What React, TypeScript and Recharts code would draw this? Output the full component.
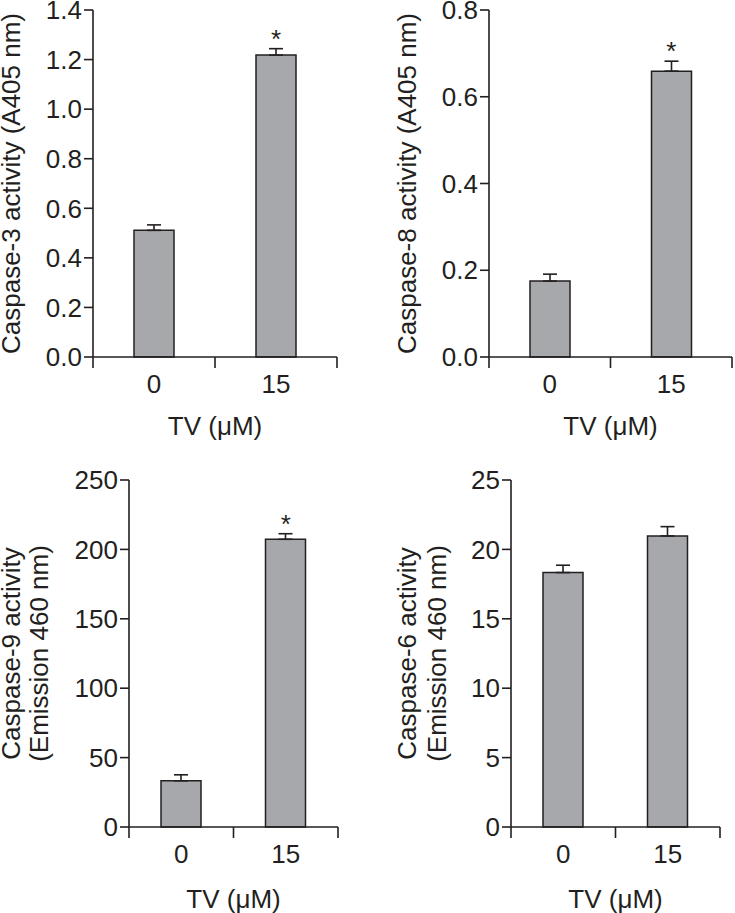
import { Bar, ComposedChart, ErrorBar, Scatter, XAxis, YAxis } from "recharts";

const INK = "#231f20";
const BAR_FILL = "#a7a8ab";
const FONT = "'Liberation Sans', Arial, Helvetica, sans-serif";
const FONT_SIZE = 26;
const X_TICK = 11;

// doses of TV (µM)
const categories = ["0", "15"];

const casp3Mean = [0.511, 1.218];
const casp3Sem = [0.022, 0.026];
const casp3Sig = [false, true];
const casp3Ticks = [0, 0.2, 0.4, 0.6, 0.8, 1.0, 1.2, 1.4];

const casp8Mean = [0.175, 0.659];
const casp8Sem = [0.016, 0.023];
const casp8Sig = [false, true];
const casp8Ticks = [0, 0.2, 0.4, 0.6, 0.8];

const casp9Mean = [33.3, 207.3];
const casp9Sem = [4.3, 4.0];
const casp9Sig = [false, true];
const casp9Ticks = [0, 50, 100, 150, 200, 250];

const casp6Mean = [18.33, 20.97];
const casp6Sem = [0.53, 0.67];
const casp6Sig = [false, false];
const casp6Ticks = [0, 5, 10, 15, 20, 25];

type Panel = {
  key: string;
  left: number;
  top: number;
  width: number;
  height: number;
  margin: { top: number; right: number; left: number; bottom: number };
  yAxisWidth: number;
  xAxisHeight: number;
  yTitle: string[];
  yTitleX: number[];
  xTitleDy: number;
  mean: number[];
  sem: number[];
  sig: boolean[];
  ticks: number[];
  decimals: number;
};

const panels: Panel[] = [
  {
    key: "c3",
    left: 0,
    top: 0,
    width: 340,
    height: 450,
    margin: { top: 10, right: 3, left: 0, bottom: 0 },
    yAxisWidth: 93,
    xAxisHeight: 93,
    yTitle: ["Caspase-3 activity (A405 nm)"],
    yTitleX: [20],
    xTitleDy: 78,
    mean: casp3Mean,
    sem: casp3Sem,
    sig: casp3Sig,
    ticks: casp3Ticks,
    decimals: 1,
  },
  {
    key: "c8",
    left: 380,
    top: 0,
    width: 355,
    height: 450,
    margin: { top: 10, right: 3, left: 0, bottom: 0 },
    yAxisWidth: 109,
    xAxisHeight: 93,
    yTitle: ["Caspase-8 activity (A405 nm)"],
    yTitleX: [36],
    xTitleDy: 78,
    mean: casp8Mean,
    sem: casp8Sem,
    sig: casp8Sig,
    ticks: casp8Ticks,
    decimals: 1,
  },
  {
    key: "c9",
    left: 0,
    top: 460,
    width: 340,
    height: 453,
    margin: { top: 20, right: 2, left: 0, bottom: 0 },
    yAxisWidth: 129,
    xAxisHeight: 86,
    yTitle: ["Caspase-9 activity", "(Emission 460 nm)"],
    yTitleX: [20, 48],
    xTitleDy: 81,
    mean: casp9Mean,
    sem: casp9Sem,
    sig: casp9Sig,
    ticks: casp9Ticks,
    decimals: 0,
  },
  {
    key: "c6",
    left: 380,
    top: 460,
    width: 355,
    height: 453,
    margin: { top: 20, right: 15, left: 0, bottom: 0 },
    yAxisWidth: 131,
    xAxisHeight: 86,
    yTitle: ["Caspase-6 activity", "(Emission 460 nm)"],
    yTitleX: [36, 66],
    xTitleDy: 81,
    mean: casp6Mean,
    sem: casp6Sem,
    sig: casp6Sig,
    ticks: casp6Ticks,
    decimals: 0,
  },
];

function XTick(props: any) {
  const { x, y, payload } = props;
  const v = Number(payload?.value);
  if (Number.isInteger(v)) {
    return <line x1={x} x2={x} y1={y - X_TICK} y2={y} stroke={INK} strokeWidth={1.6} />;
  }
  return (
    <text
      x={x}
      y={y}
      dy={25}
      textAnchor="middle"
      fill={INK}
      fontSize={FONT_SIZE}
      fontFamily={FONT}
    >
      {categories[Math.floor(v)]}
    </text>
  );
}

function Star(props: any) {
  const { cx, cy } = props;
  if (cx == null || cy == null || Number.isNaN(cy)) return <g />;
  return (
    <text x={cx} y={cy} dy={-1} textAnchor="middle" fill={INK} fontSize={FONT_SIZE} fontFamily={FONT}>
      *
    </text>
  );
}

function CaspasePanel({ p }: { p: Panel }) {
  const data = p.mean.map((m, i) => ({
    pos: i + 0.5,
    mean: m,
    err: [0, p.sem[i]],
  }));
  const stars = p.mean
    .map((m, i) => ({ pos: i + 0.5, star: m + p.sem[i], show: p.sig[i] }))
    .filter((d) => d.show);
  const xTicks = Array.from({ length: categories.length * 2 + 1 }, (_, i) => i / 2);
  const top = p.ticks[p.ticks.length - 1];

  return (
    <div style={{ position: "absolute", left: p.left, top: p.top }}>
      <ComposedChart width={p.width} height={p.height} data={data} margin={p.margin}>
        <XAxis
          dataKey="pos"
          type="number"
          domain={[0, categories.length]}
          ticks={xTicks}
          interval={0}
          tickSize={X_TICK}
          tickMargin={0}
          tickLine={false}
          axisLine={{ stroke: INK, strokeWidth: 1.6 }}
          tick={(props: any) => <XTick {...props} />}
          height={p.xAxisHeight}
          label={(props: any) => {
            const vb = props.viewBox || {};
            return (
              <text
                x={vb.x + vb.width / 2}
                y={vb.y + p.xTitleDy}
                textAnchor="middle"
                fill={INK}
                fontSize={FONT_SIZE}
                fontFamily={FONT}
              >
                TV (μM)
              </text>
            );
          }}
        />
        <YAxis
          type="number"
          domain={[0, top]}
          ticks={p.ticks}
          interval={0}
          width={p.yAxisWidth}
          tickSize={9}
          tickMargin={2}
          axisLine={{ stroke: INK, strokeWidth: 1.6 }}
          tickLine={{ stroke: INK, strokeWidth: 1.6 }}
          tick={{ fill: INK, fontSize: FONT_SIZE, fontFamily: FONT }}
          tickFormatter={(v: number) => v.toFixed(p.decimals)}
          label={(props: any) => {
            const vb = props.viewBox || {};
            const cy = vb.y + vb.height / 2;
            return (
              <g>
                {p.yTitle.map((line, i) => {
                  const x = vb.x + p.yTitleX[i];
                  return (
                    <text
                      key={line}
                      x={x}
                      y={cy}
                      transform={`rotate(-90, ${x}, ${cy})`}
                      textAnchor="middle"
                      fill={INK}
                      fontSize={FONT_SIZE}
                      fontFamily={FONT}
                    >
                      {line}
                    </text>
                  );
                })}
              </g>
            );
          }}
        />
        <Bar
          dataKey="mean"
          barSize={40}
          fill={BAR_FILL}
          stroke={INK}
          strokeWidth={1.5}
          isAnimationActive={false}
        >
          <ErrorBar dataKey="err" width={7} stroke={INK} strokeWidth={1.6} direction="y" />
        </Bar>
        <Scatter data={stars} dataKey="star" shape={<Star />} isAnimationActive={false} />
      </ComposedChart>
    </div>
  );
}

export default function App() {
  return (
    <div
      style={{
        position: "absolute",
        left: 0,
        top: 0,
        width: 735,
        height: 913,
        background: "#fff",
      }}
    >
      {panels.map((p) => (
        <CaspasePanel key={p.key} p={p} />
      ))}
    </div>
  );
}
